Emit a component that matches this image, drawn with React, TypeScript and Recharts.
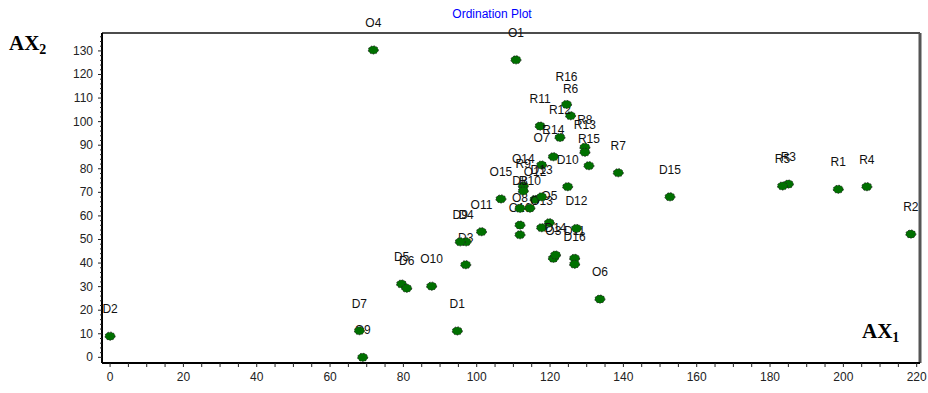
import { ReferenceLine, Scatter, ScatterChart, XAxis, YAxis } from "recharts";

const NAMES = [
  "O1", "O3", "O4", "O5", "O6", "O7", "O8", "O9", "O10", "O11", "O12", "O13", "O14", "O15", "O16",
  "D1", "D2", "D3", "D4", "D5", "D6", "D7", "D8", "D9", "D10", "D11", "D12", "D13", "D14", "D15", "D16",
  "R1", "R2", "R3", "R4", "R5", "R6", "R7", "R8", "R9", "R10", "R11", "R12", "R13", "R14", "R15", "R16",
];
const AX1 = [
  110.7, 120.9, 71.8, 119.8, 133.6, 117.7, 111.8, 68.9, 87.7, 101.3, 115.9, 117.7, 112.7, 106.6, 111.8,
  94.7, 0, 97, 97.1, 79.5, 80.9, 68, 111.8, 95.5, 124.8, 126.7, 127.2, 117.7, 121.5, 152.7, 126.7,
  198.6, 218.4, 185, 206.4, 183.4, 125.6, 138.6, 129.5, 112.7, 114.5, 117.3, 122.7, 129.5, 120.9, 130.6, 124.5,
];
const AX2 = [
  126.2, 42, 130.4, 57.1, 24.7, 81.6, 56.1, 0, 30.2, 53.3, 67, 55, 72.7, 67.2, 52,
  11.2, 9, 39.3, 49, 31.1, 29.3, 11.3, 63.2, 49, 72.4, 42, 54.7, 68.1, 43.4, 68.1, 39.5,
  71.3, 52.3, 73.5, 72.4, 72.7, 102.5, 78.3, 89.1, 70.6, 63.3, 98.1, 93.3, 87, 85.1, 81.3, 107.3,
];

const X_MAJOR = [0, 20, 40, 60, 80, 100, 120, 140, 160, 180, 200, 220];
const Y_MAJOR = [0, 10, 20, 30, 40, 50, 60, 70, 80, 90, 100, 110, 120, 130];
const X_DOMAIN = [-2.2, 220.9];
const Y_DOMAIN = [-2.4, 137.6];

// minor ticks: every 5 on AX1, every 2 on AX2
const xTicks: number[] = [];
for (let v = 0; v <= 220; v += 5) xTicks.push(v);
const yTicks: number[] = [];
for (let v = 0; v <= 136; v += 2) yTicks.push(v);

const data = NAMES.map((name, i) => ({ name, x: AX1[i], y: AX2[i] }));

const FONT = "'Liberation Sans', Arial, sans-serif";

function Marker(props: any) {
  const { cx, cy, payload } = props;
  return (
    <g>
      <ellipse cx={cx} cy={cy} rx={5} ry={4} fill="#007000" stroke="#222" strokeWidth={1} strokeDasharray="1.5 1.5" />
      <text x={cx} y={cy - 23} textAnchor="middle" fontSize={12} fontFamily={FONT} fill="#111">
        {payload.name}
      </text>
    </g>
  );
}

function XTick(props: any) {
  const { x, y, payload } = props;
  const major = X_MAJOR.includes(payload.value);
  return (
    <g>
      <line x1={x} y1={y} x2={x} y2={y + 4} stroke="#222" />
      {major && (
        <text x={x} y={y + 18} textAnchor="middle" fontSize={12} fontFamily={FONT} fill="#222">
          {payload.value}
        </text>
      )}
    </g>
  );
}

function YTick(props: any) {
  const { x, y, payload } = props;
  const major = Y_MAJOR.includes(payload.value);
  return (
    <g>
      <line x1={x - (major ? 4 : 2)} y1={y} x2={x} y2={y} stroke="#222" />
      {major && (
        <text x={x - 9} y={y + 4} textAnchor="end" fontSize={12} fontFamily={FONT} fill="#222">
          {payload.value}
        </text>
      )}
    </g>
  );
}

const axisTitle = { position: "absolute" as const, fontFamily: "'Liberation Serif', 'Times New Roman', serif", fontWeight: 700, fontSize: 21, color: "#000", lineHeight: "22px" };

export default function App() {
  return (
    <div style={{ position: "absolute", left: 0, top: 0, width: 928, height: 393, background: "#fff" }}>
      <ScatterChart width={928} height={393} margin={{ top: 33, right: 8, bottom: 0, left: 0 }}>
        <XAxis
          type="number"
          dataKey="x"
          domain={X_DOMAIN}
          ticks={xTicks}
          interval={0}
          tick={<XTick />}
          tickLine={false}
          tickSize={0}
          tickMargin={0}
          height={30}
          axisLine={{ stroke: "#000", strokeWidth: 2 }}
        />
        <YAxis
          type="number"
          dataKey="y"
          domain={Y_DOMAIN}
          ticks={yTicks}
          interval={0}
          tick={<YTick />}
          tickLine={false}
          tickSize={0}
          tickMargin={0}
          width={102}
          axisLine={{ stroke: "#000", strokeWidth: 2 }}
        />
        <ReferenceLine y={Y_DOMAIN[1]} stroke="#111" strokeWidth={1.5} />
        <ReferenceLine x={X_DOMAIN[1]} stroke="#555" strokeWidth={3} />
        <Scatter data={data} shape={<Marker />} isAnimationActive={false} />
      </ScatterChart>
      <div style={{ position: "absolute", left: 0, top: 7, width: 984, textAlign: "center", fontFamily: FONT, fontSize: 12, color: "#0000ff" }}>
        Ordination Plot
      </div>
      <div style={{ ...axisTitle, left: 9, top: 32 }}>
        AX<sub style={{ fontSize: 14, verticalAlign: "-4px" }}>2</sub>
      </div>
      <div style={{ ...axisTitle, left: 862, top: 320 }}>
        AX<sub style={{ fontSize: 14, verticalAlign: "-4px" }}>1</sub>
      </div>
    </div>
  );
}
